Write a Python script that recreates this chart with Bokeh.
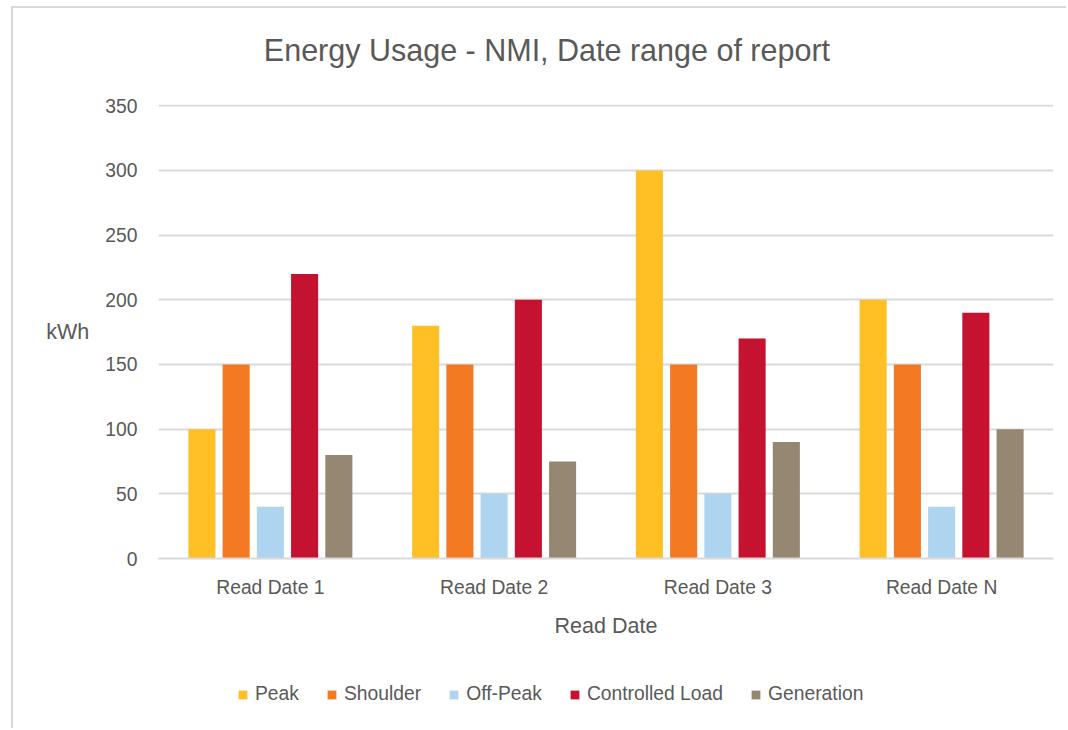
from bokeh.plotting import figure
from bokeh.layouts import column
from bokeh.models import FactorRange, Range1d, ColumnDataSource, Legend, LegendItem, FixedTicker, Label
from bokeh.transform import dodge
from bokeh.embed import file_html
from bokeh.resources import INLINE

title_text = "Energy Usage - NMI, Date range of report"
categories = ["Read Date 1", "Read Date 2", "Read Date 3", "Read Date N"]
series = ["Peak", "Shoulder", "Off-Peak", "Controlled Load", "Generation"]
peak = [100, 180, 300, 200]
shoulder = [150, 150, 150, 150]
off_peak = [40, 50, 50, 40]
controlled_load = [220, 200, 170, 190]
generation = [80, 75, 90, 100]
y_ticks = [0, 50, 100, 150, 200, 250, 300, 350]

colors = ["#FEC024", "#F37A23", "#AED4F0", "#C41230", "#968772"]
keys = ["peak", "shoulder", "off_peak", "controlled", "generation"]
FONT = "Liberation Sans"
TXT = "#595959"
GRID = "#d9d9d9"

src = ColumnDataSource(dict(cat=categories, peak=peak, shoulder=shoulder,
                            off_peak=off_peak, controlled=controlled_load,
                            generation=generation))
x_range = FactorRange(*categories)
offsets = [-0.306, -0.153, 0.0, 0.153, 0.306]


def bare(fig):
    fig.outline_line_color = None
    fig.xgrid.grid_line_color = None
    fig.ygrid.grid_line_color = None


# ---- title strip ----
p0 = figure(width=1055, height=86, output_backend="svg", toolbar_location=None,
            x_axis_location=None, y_axis_location=None, min_border=0,
            x_range=Range1d(0, 1), y_range=Range1d(0, 1))
bare(p0)
p0.add_layout(Label(x=0.434, y=0.517, text=title_text, text_align="center",
                    text_baseline="middle", text_font=FONT, text_font_size="30.5px",
                    text_color=TXT))

# ---- main chart ----
p = figure(x_range=x_range, y_range=Range1d(0, 351),
           width=1055, height=546, output_backend="svg", toolbar_location=None,
           min_border_left=145, min_border_right=15, min_border_top=10,
           min_border_bottom=81)
p.outline_line_color = None
p.xgrid.grid_line_color = None
p.ygrid.grid_line_color = GRID
p.ygrid.grid_line_width = 2
p.yaxis.ticker = FixedTicker(ticks=y_ticks)

for ax in (p.xaxis[0], p.yaxis[0]):
    ax.major_tick_line_color = None
    ax.minor_tick_line_color = None
    ax.major_tick_out = 0
    ax.major_tick_in = 0
    ax.major_label_text_font = FONT
    ax.major_label_text_font_size = "19.3px"
    ax.major_label_text_color = TXT
    ax.axis_label_text_font = FONT
    ax.axis_label_text_font_size = "21.5px"
    ax.axis_label_text_font_style = "normal"
    ax.axis_label_text_color = TXT

p.yaxis.axis_line_color = None
p.yaxis.major_label_standoff = 21
p.yaxis.axis_label = "kWh"
p.yaxis.axis_label_standoff = 13
try:
    p.yaxis[0].axis_label_orientation = "horizontal"
except Exception:
    pass

p.xaxis.axis_line_color = GRID
p.xaxis.axis_line_width = 2
p.xaxis.major_label_standoff = 18
p.xaxis.axis_label = "Read Date"
p.xaxis.axis_label_standoff = 13

for i, key in enumerate(keys):
    p.vbar(x=dodge("cat", offsets[i], range=x_range), top=key, width=0.121,
           source=src, fill_color=colors[i], line_color=None)

# ---- legend strip (same series, plotted out of view; only the legend shows) ----
p2 = figure(x_range=x_range, y_range=Range1d(1000, 1001),
            width=1055, height=90, output_backend="svg", toolbar_location=None,
            x_axis_location=None, y_axis_location=None, min_border=0)
bare(p2)
items = []
for i, (name, key) in enumerate(zip(series, keys)):
    r = p2.vbar(x=dodge("cat", offsets[i], range=x_range), top=key, width=0.121,
                source=src, fill_color=colors[i], line_color=None)
    items.append(LegendItem(label=name, renderers=[r]))

legend = Legend(items=items, orientation="horizontal", location=(79, 25),
                glyph_width=11, glyph_height=11, label_standoff=7, spacing=27,
                padding=0, margin=0, border_line_color=None, background_fill_alpha=0,
                label_text_font=FONT, label_text_font_size="19.3px", label_text_color=TXT)
p2.add_layout(legend)

layout = column(p0, p, p2, spacing=0)
layout.styles = {"margin-left": "13px", "margin-top": "8px",
                 "box-shadow": "-2px -2px 0 0 #d9d9d9"}

open("out.html", "w").write(file_html(layout, INLINE))
